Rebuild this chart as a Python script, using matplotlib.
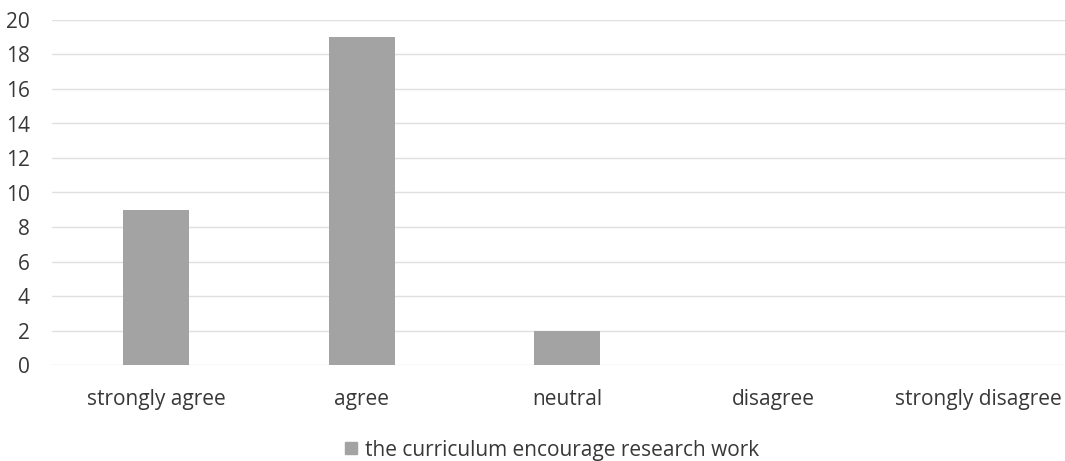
import matplotlib.pyplot as plt
from matplotlib.patches import Patch

# Chart data
categories = ["strongly agree", "agree", "neutral", "disagree", "strongly disagree"]
counts = [9, 19, 2, 0, 0]
series_name = "the curriculum encourage research work"
y_ticks = list(range(0, 21, 2))

plt.rcParams["font.family"] = ["Open Sans", "DejaVu Sans"]

fig = plt.figure(figsize=(10.65, 4.61), dpi=100)
ax = fig.add_axes([52 / 1065, 1 - 365 / 461, 1 - 52 / 1065, (365 - 20) / 461])

bar_color = "#a3a3a3"
text_color = "#383838"
x = range(len(categories))
ax.bar(x, counts, width=0.32, color=bar_color, zorder=3)

ax.set_xlim(-0.506, 4.42)
ax.set_ylim(0, 20)
ax.set_yticks(y_ticks)
ax.set_xticks(list(x))
ax.set_xticklabels(categories)
ax.tick_params(axis="both", length=0, labelsize=15, colors=text_color)
ax.tick_params(axis="x", pad=17)
ax.tick_params(axis="y", pad=16)
ax.grid(axis="y", color="#e0e0e0", linewidth=1, zorder=0)
for s in ax.spines.values():
    s.set_visible(False)

fig.legend(
    handles=[Patch(color=bar_color, label=series_name)],
    loc="center", bbox_to_anchor=(552 / 1065, 1 - 450 / 461),
    frameon=False, fontsize=15, handlelength=0.55, handleheight=0.55,
    handletextpad=0.4, labelcolor=text_color,
)

fig.savefig("out.png", dpi=100)
